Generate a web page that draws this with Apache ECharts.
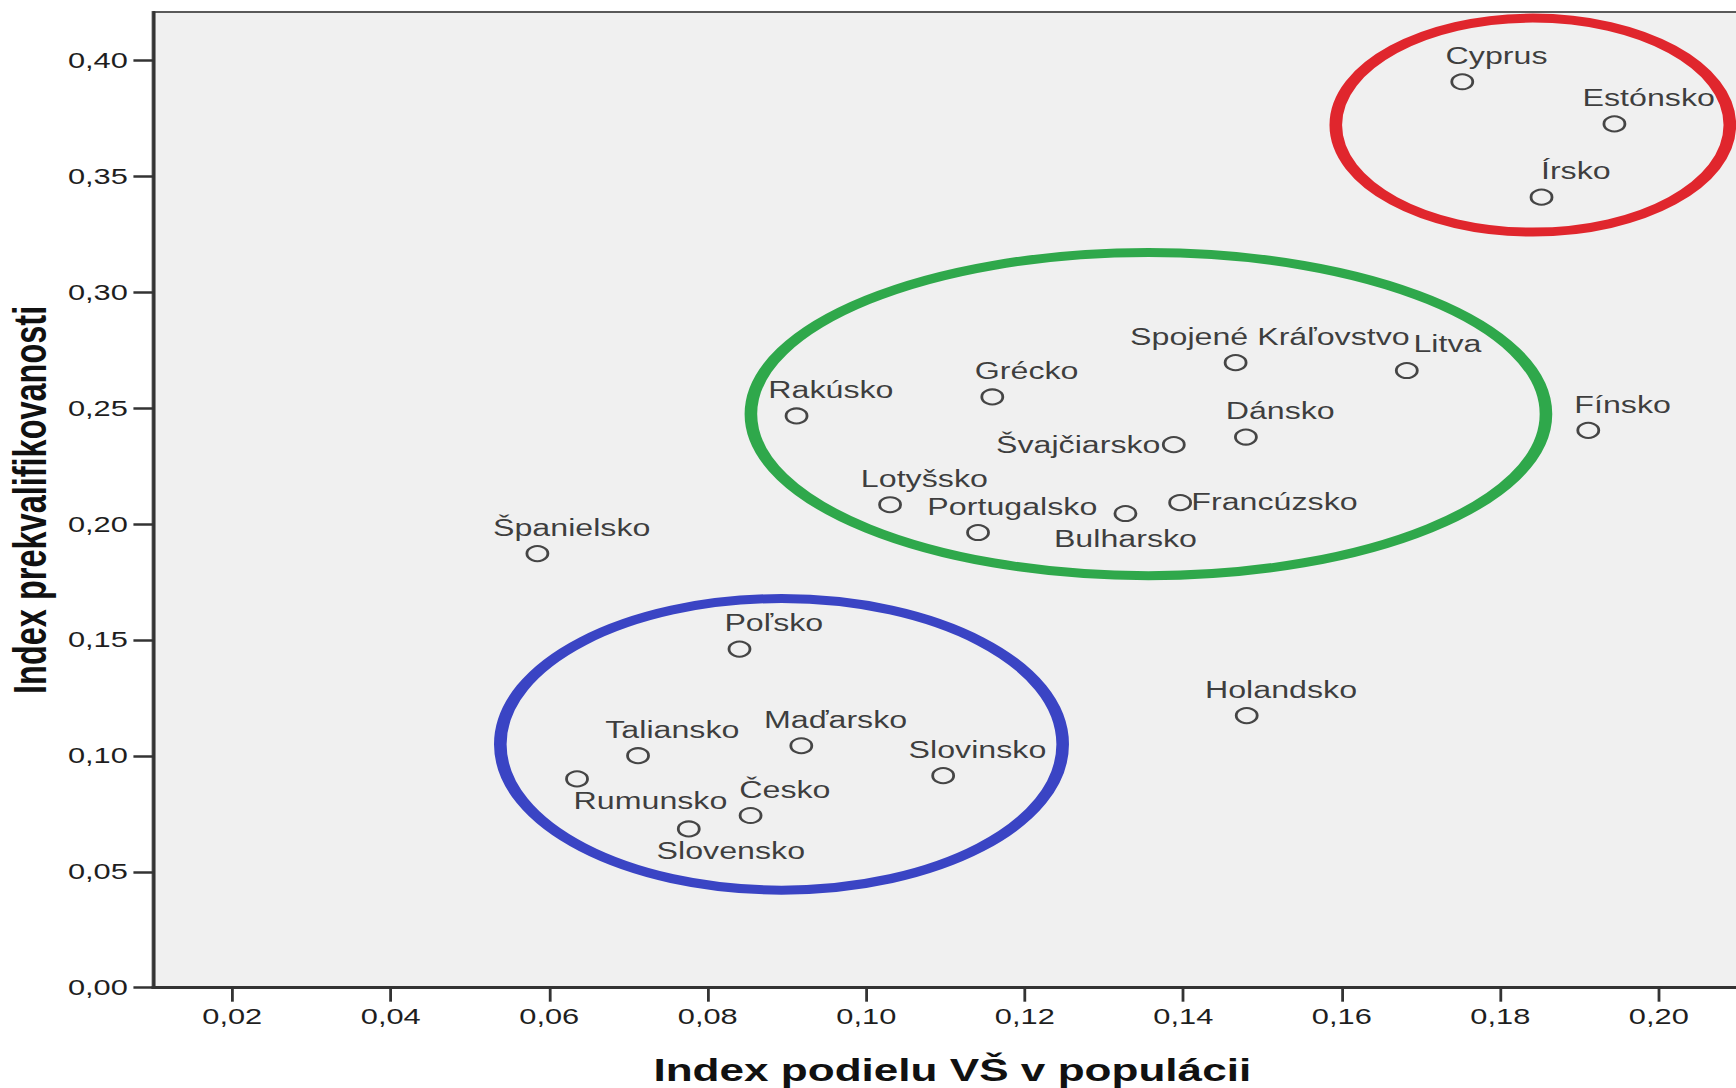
<!DOCTYPE html>
<html>
<head>
<meta charset="utf-8">
<script src="https://cdn.jsdelivr.net/npm/echarts@6/dist/echarts.min.js"></script>
<style>
html, body { margin: 0; padding: 0; background: #ffffff; overflow: hidden; width: 1736px; height: 1088px; }
#chart { width: 1240px; height: 1088px; transform: scaleX(1.4); transform-origin: 0 0; }
</style>
</head>
<body>
<div id="chart"></div>
<script>
// ---- data ----
const countries = ['Cyprus', 'Estónsko', 'Írsko', 'Spojené Kráľovstvo', 'Litva', 'Grécko', 'Rakúsko',
  'Fínsko', 'Dánsko', 'Švajčiarsko', 'Lotyšsko', 'Francúzsko', 'Bulharsko', 'Portugalsko',
  'Španielsko', 'Poľsko', 'Holandsko', 'Maďarsko', 'Taliansko', 'Rumunsko', 'Slovinsko', 'Česko', 'Slovensko'];
const xValues = [0.1752, 0.1944, 0.1852, 0.1466, 0.1682, 0.1159, 0.0912,
  0.1911, 0.1479, 0.1388, 0.1030, 0.1396, 0.1327, 0.1141,
  0.0585, 0.0840, 0.1480, 0.0918, 0.0712, 0.0635, 0.1097, 0.0854, 0.0776];
const yValues = [0.3909, 0.3727, 0.3411, 0.2697, 0.2663, 0.2549, 0.2467,
  0.2405, 0.2376, 0.2343, 0.2084, 0.2093, 0.2046, 0.1964,
  0.1873, 0.1461, 0.1174, 0.1044, 0.1001, 0.0901, 0.0915, 0.0743, 0.0685];
const xTicks = [0.02, 0.04, 0.06, 0.08, 0.10, 0.12, 0.14, 0.16, 0.18, 0.20];
const yTicks = [0.00, 0.05, 0.10, 0.15, 0.20, 0.25, 0.30, 0.35, 0.40];
const xAxisTitle = 'Index podielu VŠ v populácii';
const yAxisTitle = 'Index prekvalifikovanosti';
// cluster ellipses (data units): centre x, centre y, half-width x, half-height y
const clusterCx = [0.1841, 0.1356, 0.0893];
const clusterCy = [0.3722, 0.2475, 0.1050];
const clusterRx = [0.02486, 0.05016, 0.03548];
const clusterRy = [0.04616, 0.0697, 0.0629];

// ---- styling ----
const FONT = '"Liberation Sans", Arial, sans-serif';
const clusterColors = ['#e0262d', '#2fa84b', '#3a44c4'];
const labelStyle = {
  default: { align: 'center', offset: [24.5, -25.5] },
  'Litva': { align: 'center', offset: [29, -26.5] },
  'Švajčiarsko': { align: 'right', offset: [-9.5, 0] },
  'Francúzsko': { align: 'left', offset: [8, 0] },
  'Bulharsko': { align: 'center', offset: [0, 25.5] },
  'Rumunsko': { align: 'left', offset: [-2.5, 22] },
  'Slovensko': { align: 'left', offset: [-23, 22] }
};
const fmt = v => v.toFixed(2).replace('.', ',');

const chart = echarts.init(document.getElementById('chart'), null, { renderer: 'svg' });

const points = countries.map((name, i) => {
  const ls = labelStyle[name] || labelStyle.default;
  return { name: name, value: [xValues[i], yValues[i]], label: { align: ls.align, offset: ls.offset } };
});

chart.setOption({
  animation: false,
  backgroundColor: '#ffffff',
  grid: {
    left: 109.3, top: 12, width: 1141.8, height: 975.7,
    outerBoundsMode: 'none', containLabel: false,
    show: true, backgroundColor: '#f0f0f0', borderColor: '#5a5a5a', borderWidth: 2
  },
  xAxis: {
    type: 'value', min: 0.01, max: 0.2117,
    splitLine: { show: false },
    axisLine: { show: true, onZero: false, lineStyle: { color: '#333333', width: 3 } },
    axisTick: { show: true, customValues: xTicks, length: 14, lineStyle: { color: '#333333', width: 2 } },
    axisLabel: { customValues: xTicks, formatter: fmt, margin: 18, color: '#1e1e1e', fontSize: 22, fontFamily: FONT },
    name: xAxisTitle, nameLocation: 'middle', nameGap: 66,
    nameTextStyle: { fontSize: 31.5, fontWeight: 'bold', color: '#111111', fontFamily: FONT }
  },
  yAxis: {
    type: 'value', min: 0, max: 0.421,
    splitLine: { show: false },
    axisLine: { show: true, onZero: false, lineStyle: { color: '#333333', width: 2.2 } },
    axisTick: { show: true, customValues: yTicks, length: 14, lineStyle: { color: '#333333', width: 2.5 } },
    axisLabel: { customValues: yTicks, formatter: fmt, margin: 18, color: '#1e1e1e', fontSize: 22, fontFamily: FONT },
    name: yAxisTitle, nameLocation: 'middle', nameGap: 66,
    nameTextStyle: { fontSize: 32.5, fontWeight: 'bold', color: '#111111', fontFamily: FONT }
  },
  series: [{
    type: 'scatter',
    symbol: 'circle',
    symbolSize: 15,
    itemStyle: { color: 'rgba(0,0,0,0)', borderColor: '#1a1a1a', borderWidth: 2 },
    label: {
      show: true, position: 'inside', formatter: p => p.name,
      color: '#0d0d0d', fontSize: 23, fontFamily: FONT, verticalAlign: 'middle'
    },
    emphasis: { disabled: true },
    data: points,
    z: 3
  }]
});

function drawClusters() {
  const g = clusterCx.map((cx, i) => {
    const c = chart.convertToPixel({ gridIndex: 0 }, [cx, clusterCy[i]]);
    const e = chart.convertToPixel({ gridIndex: 0 }, [cx + clusterRx[i], clusterCy[i] + clusterRy[i]]);
    return {
      type: 'ellipse',
      silent: true,
      z: 10,
      shape: { cx: c[0], cy: c[1], rx: Math.abs(e[0] - c[0]), ry: Math.abs(c[1] - e[1]) },
      style: { fill: null, stroke: clusterColors[i], lineWidth: 9 }
    };
  });
  chart.setOption({ graphic: g });
}
drawClusters();
</script>
</body>
</html>
